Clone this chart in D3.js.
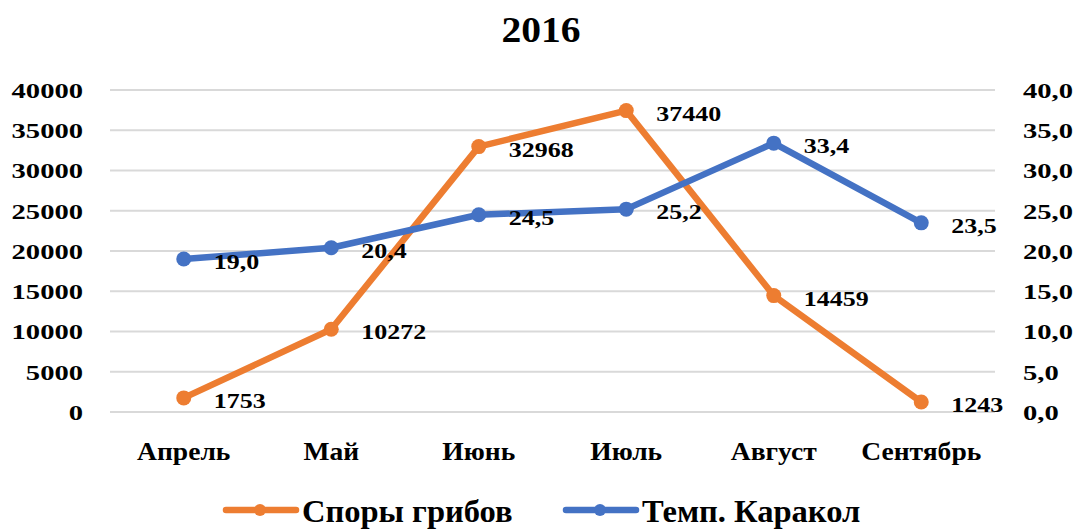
<!DOCTYPE html>
<html>
<head>
<meta charset="utf-8">
<script src="https://cdn.jsdelivr.net/npm/d3@7"></script>
<style>
  body { margin: 0; background: #fff; }
  text { font-family: "Liberation Serif", "Times New Roman", serif; font-weight: bold; fill: #000; }
</style>
</head>
<body>
<div id="chart"></div>
<script>
// data
const months = ["Апрель", "Май", "Июнь", "Июль", "Август", "Сентябрь"];
const spores = [1753, 10272, 32968, 37440, 14459, 1243];
const temps = [19.0, 20.4, 24.5, 25.2, 33.4, 23.5];
const leftTicks = [0, 5000, 10000, 15000, 20000, 25000, 30000, 35000, 40000];
const rightTicks = [0, 5, 10, 15, 20, 25, 30, 35, 40];
const seriesNames = ["Споры грибов", "Темп. Каракол"];
const colors = ["#ED7D31", "#4472C4"];

var W = 1078, H = 531;
var margin = {top: 90, right: 83, bottom: 119, left: 110};
var width = W - margin.left - margin.right;
var height = H - margin.top - margin.bottom;

var svg = d3.select("#chart").append("svg")
  .attr("width", W).attr("height", H);

// title
svg.append("text")
  .attr("transform", "translate(541,42) scale(1.1,1)")
  .attr("text-anchor", "middle")
  .style("font-size", "36px")
  .text("2016");

var g = svg.append("g").attr("transform", `translate(${margin.left},${margin.top})`);

var x = d3.scaleBand().domain(months).range([0, width]);
var yL = d3.scaleLinear().domain([0, 40000]).range([height, 0]);
var yR = d3.scaleLinear().domain([0, 40]).range([height, 0]);

// gridlines
g.append("g").selectAll("line")
  .data(leftTicks)
  .enter().append("line")
  .attr("x1", 0).attr("x2", width)
  .attr("y1", d => yL(d)).attr("y2", d => yL(d))
  .attr("stroke", "#d9d9d9").attr("stroke-width", 2);

var sx = 1.3; // numbers look horizontally stretched

var leftAxis = g.append("g")
  .call(d3.axisLeft(yL).tickValues(leftTicks).tickFormat(d3.format("d")).tickSize(0).tickPadding(27));
leftAxis.select(".domain").remove();
leftAxis.selectAll("text")
  .style("font-size", "22px")
  .attr("x", -27 / sx).attr("dy", "0.34em")
  .attr("transform", `scale(${sx},1)`);

var rightAxis = g.append("g").attr("transform", `translate(${width},0)`)
  .call(d3.axisRight(yR).tickValues(rightTicks).tickFormat(d => d.toFixed(1).replace(".", ",")).tickSize(0).tickPadding(28));
rightAxis.select(".domain").remove();
rightAxis.selectAll("text")
  .style("font-size", "22px")
  .attr("x", 28 / sx).attr("dy", "0.34em")
  .attr("transform", `scale(${sx},1)`);

// category labels
var bottomAxis = g.append("g").attr("transform", `translate(0,${height})`)
  .call(d3.axisBottom(x).tickSize(0).tickPadding(0));
bottomAxis.select(".domain").remove();
bottomAxis.selectAll("text")
  .style("font-size", "26px")
  .attr("y", 48).attr("dy", 0)
  .attr("transform", "scale(1.06,1)");

var series = [
  {name: seriesNames[0], values: spores, y: yL, color: colors[0], fmt: d => String(d)},
  {name: seriesNames[1], values: temps, y: yR, color: colors[1], fmt: d => d.toFixed(1).replace(".", ",")}
];

var cx = (d, i) => x(months[i]) + x.bandwidth() / 2;

series.forEach(function(s) {
  var line = d3.line().x((d, i) => cx(d, i)).y(d => s.y(d));
  g.append("path")
    .datum(s.values)
    .attr("d", line)
    .attr("fill", "none")
    .attr("stroke", s.color)
    .attr("stroke-width", 6.5)
    .attr("stroke-linejoin", "round")
    .attr("stroke-linecap", "round");
  g.append("g").selectAll("circle")
    .data(s.values)
    .enter().append("circle")
    .attr("cx", (d, i) => cx(d, i))
    .attr("cy", d => s.y(d))
    .attr("r", 7.5)
    .attr("fill", s.color);
});

// data labels (drawn after both lines so they sit on top)
series.forEach(function(s) {
  g.append("g").selectAll("text")
    .data(s.values)
    .enter().append("text")
    .attr("transform", (d, i) => `translate(${cx(d, i) + 30},${s.y(d) + 10}) scale(${sx},1)`)
    .style("font-size", "20px")
    .text(d => s.fmt(d));
});

// legend
var legend = svg.append("g").attr("transform", "translate(226,510)");
var offsets = [0, 340];
series.forEach(function(s, i) {
  var lg = legend.append("g").attr("transform", `translate(${offsets[i]},0)`);
  lg.append("line")
    .attr("x1", 0).attr("x2", 70)
    .attr("stroke", s.color).attr("stroke-width", 6.5)
    .attr("stroke-linecap", "round");
  lg.append("circle").attr("cx", 34).attr("r", 6).attr("fill", s.color);
  lg.append("text")
    .attr("transform", "translate(76,12) scale(1.05,1)")
    .style("font-size", "31px")
    .text(s.name);
});
</script>
</body>
</html>
